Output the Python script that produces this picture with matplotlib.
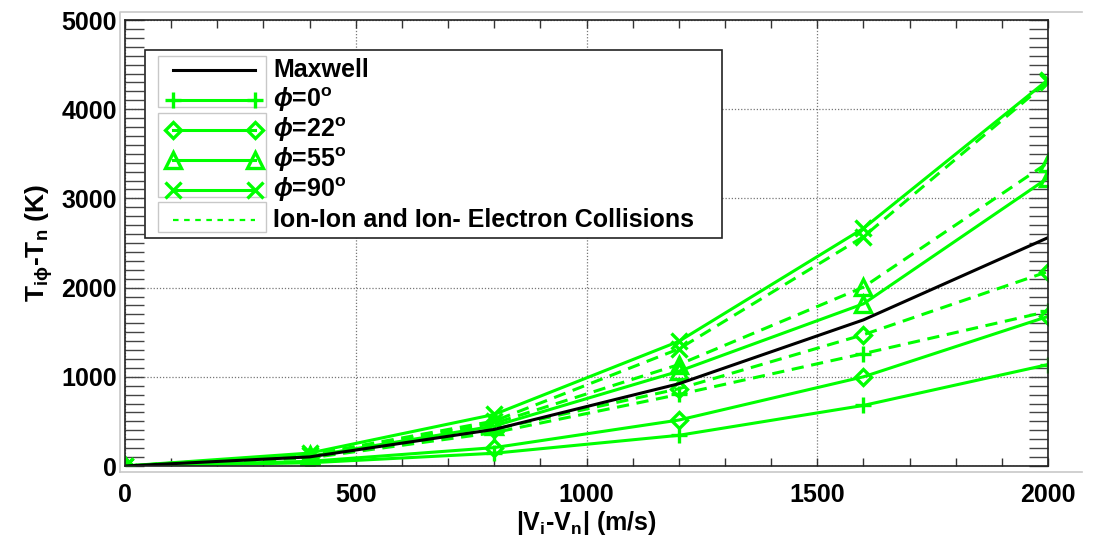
import numpy as np
import matplotlib.pyplot as plt
import matplotlib.transforms as mtransforms
from matplotlib.lines import Line2D
from matplotlib.patches import Rectangle
from matplotlib.ticker import MultipleLocator

plt.rcParams.update({
    'font.family': ['Liberation Sans', 'DejaVu Sans'],
    'font.weight': 'bold',
    'axes.labelweight': 'bold',
    'mathtext.fontset': 'custom',
    'mathtext.rm': 'Liberation Sans:bold',
    'mathtext.it': 'Liberation Sans:italic:bold',
    'mathtext.bf': 'Liberation Sans:bold',
    'mathtext.fallback': 'stixsans',
})

# drift speed |Vi-Vn| (m/s)
speed = [0, 400, 800, 1200, 1600, 2000]
maxwell = [0, 102, 410, 922, 1638, 2560]
# solid: full model, dashed: with ion-ion / ion-electron collisions
phi0_solid = [0, 36, 143, 344, 679, 1137]
phi0_dash = [0, 90, 374, 802, 1260, 1733]
phi22_solid = [0, 52, 206, 515, 1000, 1677]
phi22_dash = [0, 100, 411, 866, 1472, 2180]
phi55_solid = [0, 110, 448, 1062, 1818, 3230]
phi55_dash = [0, 118, 478, 1137, 2005, 3400]
phi90_solid = [0, 145, 578, 1397, 2664, 4330]
phi90_dash = [0, 125, 504, 1312, 2570, 4310]

labels = ['Maxwell', r'$\phi$=0$^{\rm o}$', r'$\phi$=22$^{\rm o}$', r'$\phi$=55$^{\rm o}$',
          r'$\phi$=90$^{\rm o}$', 'Ion-Ion and Ion- Electron Collisions']

GREEN = '#00ff00'
W, H = 1105, 537
fig = plt.figure(figsize=(W / 100, H / 100), dpi=100)

def px(x0, y0, x1, y1):
    return [x0 / W, 1 - y1 / H, (x1 - x0) / W, (y1 - y0) / H]

# light grey outer frame (left, top, bottom)
fig.add_artist(Line2D([120 / W, 120 / W, 1082 / W], [1 - 472 / H, 1 - 12 / H, 1 - 12 / H],
                      color='#c8c8c8', lw=1.2))
fig.add_artist(Line2D([120 / W, 1082 / W], [1 - 472 / H, 1 - 472 / H], color='#c8c8c8', lw=1.2))

ax = fig.add_axes(px(125, 20, 1048, 466))

series = [
    (phi0_solid, '+', '-'), (phi0_dash, '+', '--'),
    (phi22_solid, 'D', '-'), (phi22_dash, 'D', '--'),
    (phi55_solid, '^', '-'), (phi55_dash, '^', '--'),
    (phi90_solid, 'x', '-'), (phi90_dash, 'x', '--'),
]
for vals, m, ls in series:
    ms = 8 if m == 'D' else 12
    ax.plot(speed, vals, color=GREEN, lw=2.2, ls=ls, dashes=(4, 2.5) if ls == '--' else (None, None),
            marker=m, markersize=ms, markeredgewidth=2.4, markerfacecolor='none', markeredgecolor=GREEN)
ax.plot(speed, maxwell, color='black', lw=2.2)

ax.set_xlim(0, 2000)
ax.set_ylim(0, 5000)
ax.xaxis.set_major_locator(MultipleLocator(500))
ax.xaxis.set_minor_locator(MultipleLocator(100))
ax.yaxis.set_major_locator(MultipleLocator(1000))
ax.yaxis.set_minor_locator(MultipleLocator(100))
ax.grid(True, which='major', color='#777777', ls=(0, (1, 1.5)), lw=0.9)
ax.tick_params(axis='x', which='both', direction='in', length=6, width=1, color='#333333',
               top=True, bottom=True, labelsize=18, pad=12)
ax.tick_params(axis='y', which='both', direction='in', length=14, width=1, color='#444444',
               left=True, right=True, labelsize=18, pad=6)
for s in ax.spines.values():
    s.set_color('#222222')
    s.set_linewidth(1.2)

# shift the "0" y label up like the original
fig.canvas.draw()
ylab = ax.yaxis.get_majorticklabels()[0]
ylab.set_transform(ylab.get_transform() + mtransforms.ScaledTranslation(0, 9 / 100, fig.dpi_scale_trans))

ax.set_xlabel(r'|V$_{\rm i}$-V$_{\rm n}$| (m/s)', fontsize=18, labelpad=2)
ax.set_ylabel(r'T$_{\rm i\phi}$-T$_{\rm n}$ (K)', fontsize=19, labelpad=4)

# hand-built legend in figure pixels
fig.add_artist(Rectangle((145 / W, 1 - 238 / H), (722 - 145) / W, (238 - 50) / H,
                         transform=fig.transFigure, fill=True, facecolor='white',
                         edgecolor='#222222', lw=1.2, zorder=5))
for y0, y1 in [(56, 107), (113, 197), (202, 232)]:
    fig.add_artist(Rectangle((158 / W, 1 - y1 / H), (266 - 158) / W, (y1 - y0) / H,
                             transform=fig.transFigure, fill=False, edgecolor='#c8c8c8',
                             lw=1, zorder=6))
rows = [70, 100, 130, 160, 190, 220]
handles = [('black', None, '-'), (GREEN, '+', '-'), (GREEN, 'D', '-'), (GREEN, '^', '-'),
           (GREEN, 'x', '-'), (GREEN, None, '--')]
for yr, (c, m, ls), lab in zip(rows, handles, labels):
    yy = 1 - yr / H
    ln = Line2D([173 / W, 255 / W], [yy, yy], color=c, lw=2.2, ls=ls,
                marker=m, markersize=8 if m == 'D' else 12, markeredgewidth=2.4,
                markerfacecolor='none', markeredgecolor=c, zorder=7)
    if ls == '--':
        ln.set_dashes((2.5, 2.5))
        ln.set_linewidth(1.6)
    fig.add_artist(ln)
    fig.text(273 / W, yy, lab, fontsize=18, va='center', ha='left', zorder=8)

fig.savefig('out.png', dpi=100)
